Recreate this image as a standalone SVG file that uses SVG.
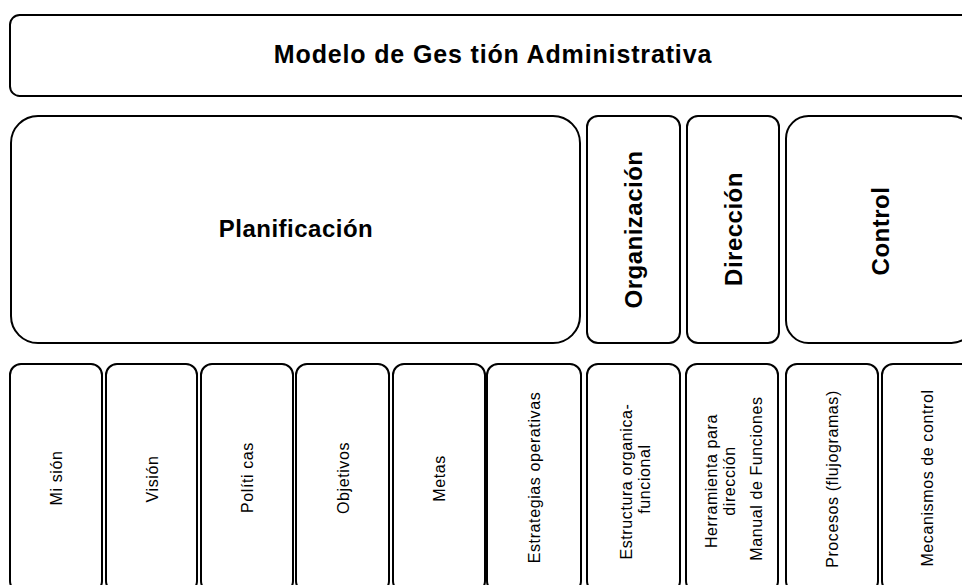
<svg xmlns="http://www.w3.org/2000/svg" width="962" height="585" viewBox="0 0 962 585">
<style>
  .box { fill: #ffffff; stroke: #000000; stroke-width: 2; }
  .title { font-family: "Liberation Sans", Arial, sans-serif; font-size: 25px; font-weight: bold; letter-spacing: 0.85px; fill: #000; text-anchor: middle; }
  .head { font-family: "Liberation Sans", Arial, sans-serif; font-size: 24px; font-weight: bold; letter-spacing: 0.5px; fill: #000; text-anchor: middle; }
  .item { font-family: "Liberation Sans", Arial, sans-serif; font-size: 16px; letter-spacing: 0.6px; fill: #000; text-anchor: middle; }
</style>
<rect x="0" y="0" width="962" height="585" fill="#ffffff"/>

<g id="titulo">
  <rect class="box" x="10" y="15" width="964" height="81" rx="9.7" ry="9.7"/>
  <text class="title" x="493" y="63">Modelo de Ges tión Administrativa</text>
</g>

<g id="planificacion">
  <rect class="box" x="11" y="116" width="569" height="227" rx="27" ry="27"/>
  <text class="head" x="296" y="237">Planificación</text>
</g>
<g id="organizacion">
  <rect class="box" x="587" y="116" width="93" height="227" rx="11" ry="11"/>
  <text class="head" transform="translate(633.5,229.5) rotate(-90)" x="0" y="8.5">Organización</text>
</g>
<g id="direccion">
  <rect class="box" x="687" y="116" width="92" height="227" rx="11" ry="11"/>
  <text class="head" transform="translate(733,229) rotate(-90)" x="0" y="8.5">Dirección</text>
</g>
<g id="control">
  <rect class="box" x="786" y="116" width="188" height="227" rx="22.5" ry="22.5"/>
  <text class="head" transform="translate(880,231) rotate(-90)" x="0" y="8.5">Control</text>
</g>

<g id="mision">
  <rect class="box" x="10" y="364" width="92" height="228" rx="11" ry="11"/>
  <text class="item" transform="translate(56,478) rotate(-90)" x="0" y="6">Mi sión</text>
</g>
<g id="vision">
  <rect class="box" x="106" y="364" width="91" height="228" rx="11" ry="11"/>
  <text class="item" transform="translate(151.5,479) rotate(-90)" x="0" y="6">Visión</text>
</g>
<g id="politicas">
  <rect class="box" x="201" y="364" width="92" height="228" rx="11" ry="11"/>
  <text class="item" transform="translate(247,477.5) rotate(-90)" x="0" y="6">Políti cas</text>
</g>
<g id="objetivos">
  <rect class="box" x="296" y="364" width="93" height="228" rx="11" ry="11"/>
  <text class="item" transform="translate(342.5,478) rotate(-90)" x="0" y="6">Objetivos</text>
</g>
<g id="metas">
  <rect class="box" x="393" y="364" width="92" height="228" rx="11" ry="11"/>
  <text class="item" transform="translate(439,478.5) rotate(-90)" x="0" y="6">Metas</text>
</g>
<g id="estrategias">
  <rect class="box" x="487" y="364" width="94" height="228" rx="11" ry="11"/>
  <text class="item" transform="translate(534,477.5) rotate(-90)" x="0" y="6">Estrategias operativas</text>
</g>
<g id="estructura">
  <rect class="box" x="587" y="364" width="93" height="228" rx="11" ry="11"/>
  <text class="item" transform="translate(633.5,479) rotate(-90)">
    <tspan x="0" y="-1.5">Estructura organica-</tspan>
    <tspan x="0" y="16.5">funcional</tspan>
  </text>
</g>
<g id="herramienta">
  <rect class="box" x="686" y="364" width="92" height="228" rx="11" ry="11"/>
  <text class="item" transform="translate(732,478.5) rotate(-90)">
    <tspan x="0" y="-15">Herramienta para</tspan>
    <tspan x="0" y="3">dirección</tspan>
    <tspan x="0" y="30">Manual de Funciones</tspan>
  </text>
</g>
<g id="procesos">
  <rect class="box" x="786" y="364" width="92" height="228" rx="11" ry="11"/>
  <text class="item" transform="translate(832,479) rotate(-90)" x="0" y="6">Procesos (flujogramas)</text>
</g>
<g id="mecanismos">
  <rect class="box" x="882" y="364" width="90" height="228" rx="11" ry="11"/>
  <text class="item" transform="translate(927,478) rotate(-90)" x="0" y="6">Mecanismos de control</text>
</g>
</svg>
